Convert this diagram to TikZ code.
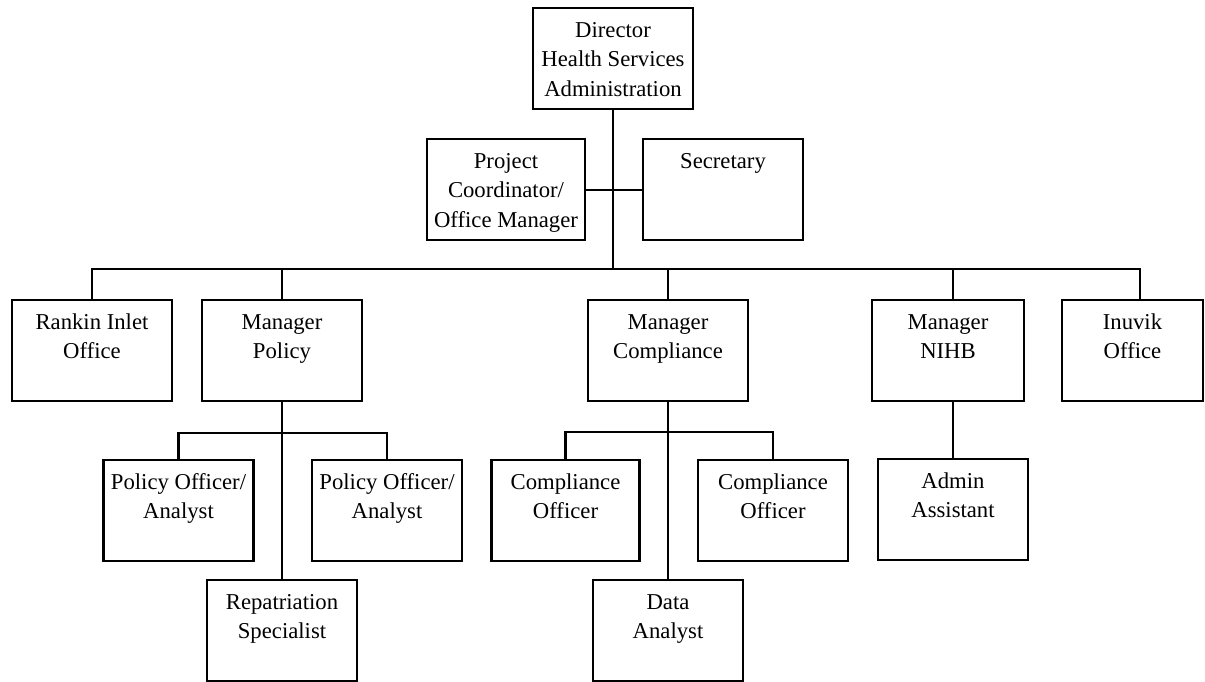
\documentclass[tikz,border=0pt]{standalone}
\usepackage{fontspec}
\setmainfont{Liberation Serif}
\newcommand{\posttext}[1]{\vtop to 43.5pt{\hbox{\begin{tabular}[t]{@{}c@{}}\rule{0pt}{11pt}#1\end{tabular}}\vfil}}
\begin{document}
\begin{tikzpicture}[x=0.5pt,y=-0.5pt,line cap=butt,line join=miter,
		post/.style={draw,line width=1.1pt,anchor=north,inner xsep=0pt,inner ysep=3.5pt,
			minimum width=80pt,font=\fontsize{11.35}{14.75}\selectfont},
		narrow/.style={post,minimum width=75pt},
		link/.style={line width=1.1pt}]
	\useasboundingbox (0,0) rectangle (1205,681);
	
	\node[post] (dir) at (613,7) {\posttext{Director\\Health Services\\Administration}};
	\node[post,minimum width=79pt] (coord) at (506,138) {\posttext{Project\\Coordinator/\\Office Manager}};
	\node[post] (sec) at (723,138) {\posttext{Secretary}};
	
	\node[post] (rankin) at (92,299) {\posttext{Rankin Inlet\\Office}};
	\node[post] (mpol) at (282,299) {\posttext{Manager\\Policy}};
	\node[post] (mcomp) at (668,299) {\posttext{Manager\\Compliance}};
	\node[post,minimum width=76pt] (mnihb) at (948,299) {\posttext{Manager\\NIHB}};
	\node[post,minimum width=70.5pt] (inuvik) at (1132.5,299) {\posttext{Inuvik\\Office}};
	
	\node[narrow] (po1) at (178.5,459) {\posttext{Policy Officer/\\Analyst}};
	\node[narrow] (po2) at (387,459) {\posttext{Policy Officer/\\Analyst}};
	\node[narrow] (rep) at (282,579) {\posttext{Repatriation\\Specialist}};
	\node[narrow,minimum width=74pt] (co1) at (565.5,459) {\posttext{Compliance\\Officer}};
	\node[narrow] (co2) at (773,459) {\posttext{Compliance\\Officer}};
	\node[narrow] (data) at (668,579) {\posttext{Data\\Analyst}};
	\node[narrow] (admin) at (953,458) {\posttext{Admin\\Assistant}};
	
	\coordinate (bus) at (613,269);
	\coordinate (nihbtop) at ([xshift=2.5pt]mnihb.north);
	\coordinate (nihbbot) at ([xshift=2.5pt]mnihb.south);
	\coordinate (inuviktop) at ([xshift=3.75pt]inuvik.north);
	\path (mpol.south) ++(0,31) coordinate (pbus);
	\path (mcomp.south) ++(0,30) coordinate (cbus);
	
	\draw[link] (dir.south) -- (bus);
	\draw[link] (coord.east) -- (sec.west);
	\draw[link] (rankin.north) |- (bus) -| (inuviktop);
	\foreach \n in {mpol,mcomp,nihbtop}{
		\draw[link] (\n) -- (\n |- bus);
	}
	\draw[link] (mpol.south) -- (rep.north);
	\draw[link] (po1.north) |- (pbus) -| (po2.north);
	\draw[link] (mcomp.south) -- (data.north);
	\draw[link] (co1.north) |- (cbus) -| (co2.north);
	\draw[link] (nihbbot) -- (admin.north);
\end{tikzpicture}
\end{document}
